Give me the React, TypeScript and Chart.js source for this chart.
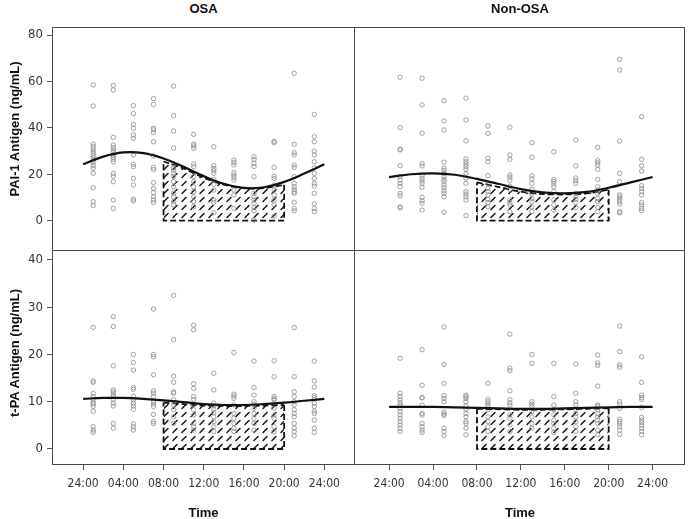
import React, { useEffect, useRef } from 'react';
import { Chart, registerables } from 'chart.js';

Chart.register(...registerables);

// ---- shared axis data ----
const sampleHours = [1, 3, 5, 7, 9, 11, 13, 15, 17, 19, 21, 23];
const xTickValues = [0, 4, 8, 12, 16, 20, 24];
const xTickLabels = ['24:00', '04:00', '08:00', '12:00', '16:00', '20:00', '24:00'];
const paiTicks = [0, 20, 40, 60, 80];
const tpaTicks = [0, 10, 20, 30, 40];
const curveHours = [0, 2, 4, 6, 8, 10, 12, 14, 16, 18, 20, 22, 24];
const hatchHours = [8, 10, 12, 14, 16, 18, 20];

// ---- PAI-1, OSA (one list per sampling hour) ----
const osaPai = [
  [58.5, 49.4, 33, 32, 31, 30, 29, 28, 27, 26, 25, 23.7, 22.5, 20.4, 14.2, 8.2, 6.5],
  [58.3, 56.3, 35.9, 32.6, 31.5, 30.4, 29.4, 28.3, 27.3, 26.4, 25.4, 20.4, 19.2, 16.8, 8.9, 5.3],
  [49.6, 46.2, 41.5, 39.8, 36.9, 35.5, 28.3, 24.3, 23.3, 18.2, 15.4, 9.3, 8.5],
  [52.6, 50.1, 39.8, 39.1, 37.9, 34.0, 27.9, 23.0, 22.1, 16.4, 13.9, 12.1, 10.3, 8.9, 7.8],
  [58.0, 45.2, 38.6, 31.3, 24.4, 22.8, 21.8, 20.4, 19.0, 16.8, 14.6, 11.8, 10.3, 8.2, 6.8],
  [37.2, 33.0, 32.2, 31.2, 24.4, 23.3, 19.0, 16.8, 14.6, 12.5, 10.3, 8.2, 6.0],
  [31.9, 23.7, 22.5, 21.5, 20.4, 17.8, 15.7, 13.2, 8.9, 7.9, 3.4],
  [26.1, 25.1, 24.0, 20.7, 19.7, 18.7, 17.5, 13.2, 11.1, 5.3],
  [27.6, 26.4, 24.7, 23.3, 19.0, 11.8, 10.3, 8.9, 7.5, 5.6, 4.3, 0.3],
  [34.2, 33.6, 23.0, 19.2, 18.2, 15.4, 13.2, 11.1, 8.9, 6.8, 2.0],
  [63.5, 32.9, 29.3, 28.3, 24.0, 23.0, 19.0, 16.1, 14.6, 13.5, 12.5, 11.8, 7.9, 5.3, 4.3],
  [45.8, 36.2, 34.0, 30.0, 28.3, 25.4, 22.8, 20.4, 18.2, 16.1, 14.9, 11.8, 7.2, 5.3, 3.9],
];

// ---- PAI-1, Non-OSA ----
const nonPai = [
  [61.8, 40.1, 30.9, 30.5, 23.7, 19.0, 17.5, 16.1, 14.7, 11.8, 10.8, 6.0, 5.5],
  [61.4, 49.9, 37.7, 24.7, 23.6, 19.4, 18.3, 17.1, 16.1, 14.4, 10.1, 8.6, 7.5, 4.6],
  [51.7, 43.0, 39.1, 25.2, 22.6, 21.6, 20.4, 19.0, 17.8, 16.8, 15.4, 14.2, 12.9, 11.8, 10.3, 3.6],
  [52.8, 43.4, 34.4, 26.6, 25.4, 24.4, 23.3, 22.2, 20.4, 18.3, 16.1, 12.5, 11.5, 10.3, 8.9, 2.2],
  [40.8, 37.6, 26.9, 25.4, 19.4, 16.1, 13.9, 12.5, 11.1, 9.2, 7.8, 6.0],
  [40.2, 28.3, 26.4, 19.7, 18.7, 17.5, 14.9, 13.5, 8.9, 7.8, 6.8, 3.9],
  [33.6, 27.3, 19.4, 18.0, 16.1, 13.5, 11.8, 9.6, 8.2, 6.0, 3.9],
  [29.7, 17.8, 16.9, 15.8, 14.6, 12.5, 8.9, 6.8, 4.6],
  [34.8, 23.6, 18.4, 17.2, 16.1, 11.8, 10.3, 9.2, 7.8, 5.7],
  [31.6, 25.9, 25.0, 24.0, 22.1, 17.8, 14.6, 13.2, 11.8, 9.6, 8.2, 5.7, 3.9],
  [69.5, 64.9, 34.3, 20.4, 16.8, 11.1, 10.3, 9.3, 8.2, 7.2, 3.9, 3.4],
  [44.8, 26.4, 23.7, 21.4, 15.1, 13.9, 12.5, 11.1, 7.8, 6.8, 5.3, 4.3],
];

// ---- t-PA, OSA ----
const osaTpa = [
  [25.7, 14.4, 14.1, 11.8, 11.1, 10.4, 9.8, 9.5, 9.0, 8.0, 4.7, 4.0, 3.5],
  [28.0, 25.9, 17.6, 12.5, 12.1, 11.6, 11.1, 10.5, 9.7, 9.1, 5.4, 4.4],
  [20.0, 18.3, 16.7, 13.0, 12.6, 11.1, 10.4, 9.7, 9.1, 8.4, 5.3, 4.7, 4.0],
  [29.6, 20.0, 19.5, 15.7, 12.3, 11.8, 11.1, 10.0, 9.5, 9.0, 7.3, 5.8, 5.4],
  [32.5, 23.1, 15.4, 14.1, 12.1, 11.8, 10.4, 9.3, 8.3, 6.8, 5.4],
  [26.2, 25.2, 13.8, 12.8, 11.1, 10.5, 9.3, 8.3, 7.2, 5.4, 4.7, 4.0],
  [16.0, 12.5, 9.7, 9.1, 8.4, 7.7, 6.8, 5.8, 4.7, 3.7],
  [20.4, 11.6, 11.2, 10.7, 9.3, 7.5, 6.5, 5.4, 4.4, 3.7],
  [18.6, 13.0, 11.4, 10.0, 9.5, 8.6, 7.5, 6.5, 5.4, 4.0],
  [18.7, 15.3, 11.1, 10.7, 10.4, 8.6, 7.2, 6.5, 4.7, 3.7],
  [25.7, 15.3, 12.1, 11.1, 10.0, 9.3, 8.3, 7.5, 6.8, 5.4, 4.4, 3.7, 2.8],
  [18.6, 14.4, 13.1, 11.3, 10.9, 9.7, 9.0, 8.0, 7.5, 6.1, 4.4, 3.5],
];

// ---- t-PA, Non-OSA ----
const nonTpa = [
  [19.2, 11.8, 11.1, 10.4, 9.8, 9.3, 8.6, 7.9, 7.2, 6.5, 5.8, 5.1, 4.4, 3.7],
  [21.0, 13.5, 10.9, 10.8, 9.3, 7.5, 7.2, 5.4, 4.7, 4.0, 3.5],
  [25.8, 17.9, 13.9, 11.3, 10.7, 10.0, 7.8, 7.4, 7.1, 4.4, 3.7, 2.8],
  [11.4, 11.1, 10.7, 10.0, 9.1, 8.4, 7.5, 6.8, 5.8, 5.4, 4.4, 3.0],
  [13.9, 10.5, 10.0, 9.5, 9.0, 8.3, 6.8, 5.8, 4.7, 3.7],
  [24.3, 17.1, 16.6, 12.3, 10.4, 9.8, 9.3, 7.2, 6.5, 5.1, 3.7],
  [20.0, 18.1, 10.0, 9.5, 9.0, 7.9, 6.8, 5.4, 4.4],
  [18.1, 11.1, 9.3, 8.3, 7.2, 6.1, 5.4, 4.4, 3.5],
  [18.0, 11.8, 10.0, 9.3, 8.4, 7.5, 6.8, 5.8, 4.7, 3.7],
  [19.9, 18.2, 17.7, 13.3, 9.3, 9.0, 8.3, 7.5, 6.8, 6.1, 5.4, 4.0, 3.0],
  [26.0, 20.6, 17.8, 17.3, 10.0, 9.5, 8.6, 6.3, 5.8, 5.3, 4.7, 4.0, 3.1],
  [19.5, 14.1, 11.4, 10.9, 10.5, 8.8, 6.7, 6.1, 5.6, 5.0, 4.4, 3.7, 3.0],
];

// ---- fitted rhythm curves (read at 2-hour steps) ----
const osaPaiCurve = [24.3, 27.6, 29.4, 29.1, 26.8, 23.2, 19.2, 15.9, 14.1, 14.4, 16.7, 20.3, 24.3];
const nonPaiCurve = [18.8, 20.0, 20.4, 19.8, 18.0, 15.8, 13.6, 12.2, 11.8, 12.4, 14.2, 16.5, 18.8];
const osaTpaCurve = [10.6, 10.8, 10.8, 10.6, 10.3, 9.9, 9.5, 9.3, 9.3, 9.5, 9.8, 10.2, 10.6];
const nonTpaCurve = [8.9, 8.9, 8.9, 8.8, 8.7, 8.6, 8.5, 8.5, 8.6, 8.7, 8.8, 8.9, 8.9];

// ---- hatched daytime area tops (08:00–20:00) ----
const osaPaiHatch = [25.5, 22.5, 18.5, 15.5, 14.0, 14.0, 15.5];
const nonPaiHatch = [16.5, 14.5, 12.5, 11.5, 11.3, 11.8, 13.3];
const osaTpaHatch = [9.8, 9.5, 9.2, 9.1, 9.1, 9.2, 9.3];
const nonTpaHatch = [8.5, 8.4, 8.3, 8.3, 8.4, 8.5, 8.6];

const TICK_FONT = '"Liberation Sans Narrow", "DejaVu Sans Condensed", "Liberation Sans", Arial, sans-serif';
const TITLE_FONT = '"Liberation Sans", Arial, sans-serif';

const borderPlugin = {
  id: 'panelBorder',
  afterDraw(chart: any) {
    const { ctx, chartArea: a } = chart;
    ctx.save();
    ctx.strokeStyle = '#4a4a4a';
    ctx.lineWidth = 1;
    ctx.strokeRect(a.left + 0.5, a.top + 0.5, a.right - a.left - 1, a.bottom - a.top - 1);
    ctx.restore();
  },
};

type PanelProps = {
  left: number; top: number; width: number; height: number;
  xr: [number, number]; yr: [number, number]; yTicks: number[];
  showX: boolean; showY: boolean;
  points: number[][]; curve: number[]; hatch: number[];
};

function Panel(p: PanelProps) {
  const ref = useRef<HTMLCanvasElement>(null);
  useEffect(() => {
    const canvas = ref.current!;
    const pc = document.createElement('canvas');
    pc.width = 9; pc.height = 8;
    const g = pc.getContext('2d')!;
    g.strokeStyle = '#111';
    g.lineWidth = 1.5;
    g.lineCap = 'round';
    g.beginPath(); g.moveTo(2, 6.5); g.lineTo(6, 2.5); g.stroke();
    const pattern = canvas.getContext('2d')!.createPattern(pc, 'repeat');

    const pts: { x: number; y: number }[] = [];
    p.points.forEach((col, i) => col.forEach((v) => pts.push({ x: sampleHours[i], y: v })));

    const zeroPad = (s: any) => { s.paddingLeft = 0; s.paddingRight = 0; s.paddingTop = 0; s.paddingBottom = 0; };

    const chart = new Chart(canvas, {
      type: 'scatter',
      data: {
        datasets: [
          {
            data: curveHours.map((h, i) => ({ x: h, y: p.curve[i] })),
            showLine: true, borderColor: '#111', borderWidth: 2.2, pointRadius: 0, tension: 0.4, order: 0,
          } as any,
          {
            data: pts, pointRadius: 2.2, borderColor: '#8c8c8c', borderWidth: 0.8,
            backgroundColor: 'rgba(0,0,0,0)', order: 1,
          },
          {
            data: hatchHours.map((h, i) => ({ x: h, y: p.hatch[i] })),
            showLine: true, fill: 'origin', backgroundColor: pattern, borderColor: '#111',
            borderWidth: 1.8, borderDash: [6, 3], pointRadius: 0, tension: 0.3, order: 2,
          },
          {
            data: [
              { x: hatchHours[hatchHours.length - 1], y: p.hatch[p.hatch.length - 1] },
              { x: hatchHours[hatchHours.length - 1], y: 0 },
              { x: hatchHours[0], y: 0 },
              { x: hatchHours[0], y: p.hatch[0] },
            ],
            showLine: true, borderColor: '#111', borderWidth: 1.8, borderDash: [6, 3],
            borderJoinStyle: 'round', pointRadius: 0, tension: 0, order: 2,
          },
        ],
      },
      options: {
        animation: false,
        responsive: false,
        devicePixelRatio: 1,
        layout: { padding: 0, autoPadding: false },
        plugins: { legend: { display: false }, tooltip: { enabled: false }, title: { display: false } },
        scales: {
          x: {
            type: 'linear', min: p.xr[0], max: p.xr[1], display: p.showX,
            afterBuildTicks: (s: any) => { s.ticks = xTickValues.map((v) => ({ value: v })); },
            afterFit: (s: any) => { s.height = p.showX ? 30 : 0; zeroPad(s); },
            ticks: {
              callback: (_v: any, i: number) => xTickLabels[i],
              color: '#333', font: { family: TICK_FONT, size: 12 }, padding: 7,
              maxRotation: 0, autoSkip: false,
            },
            grid: { drawOnChartArea: false, drawTicks: true, tickLength: 5, color: '#555' },
            border: { display: false },
          },
          y: {
            type: 'linear', min: p.yr[0], max: p.yr[1], display: p.showY,
            afterBuildTicks: (s: any) => { s.ticks = p.yTicks.map((v) => ({ value: v })); },
            afterFit: (s: any) => { s.width = p.showY ? 52 : 0; zeroPad(s); },
            ticks: { color: '#333', font: { family: TICK_FONT, size: 13 }, padding: 4 },
            grid: { drawOnChartArea: false, drawTicks: true, tickLength: 5, color: '#555' },
            border: { display: false },
          },
        },
      },
      plugins: [borderPlugin],
    });
    return () => chart.destroy();
  }, []);
  return (
    <canvas
      ref={ref}
      width={p.width}
      height={p.height}
      style={{ position: 'absolute', left: p.left, top: p.top, width: p.width, height: p.height }}
    />
  );
}

function Label(props: { x: number; y: number; text: string; rotate?: boolean }) {
  return (
    <div
      style={{
        position: 'absolute', left: props.x, top: props.y,
        transform: `translate(-50%, -50%)${props.rotate ? ' rotate(-90deg)' : ''}`,
        whiteSpace: 'nowrap', fontFamily: TITLE_FONT, fontWeight: 'bold', fontSize: 13,
        color: '#111', lineHeight: '16px',
      }}
    >
      {props.text}
    </div>
  );
}

export default function App() {
  const topY: [number, number] = [-13.06, 83.45];
  const botY: [number, number] = [-3.39, 42.1];
  const leftX: [number, number] = [-3.1, 27.05];
  const rightX: [number, number] = [-3.2, 26.95];
  return (
    <div style={{ position: 'fixed', left: 0, top: 0, width: 688, height: 519, background: '#fff', overflow: 'hidden' }}>
      <Panel left={0} top={27} width={355} height={224} xr={leftX} yr={topY} yTicks={paiTicks}
        showX={false} showY={true} points={osaPai} curve={osaPaiCurve} hatch={osaPaiHatch} />
      <Panel left={354} top={27} width={331} height={224} xr={rightX} yr={topY} yTicks={paiTicks}
        showX={false} showY={false} points={nonPai} curve={nonPaiCurve} hatch={nonPaiHatch} />
      <Panel left={0} top={250} width={355} height={245} xr={leftX} yr={botY} yTicks={tpaTicks}
        showX={true} showY={true} points={osaTpa} curve={osaTpaCurve} hatch={osaTpaHatch} />
      <Panel left={354} top={250} width={331} height={245} xr={rightX} yr={botY} yTicks={tpaTicks}
        showX={true} showY={false} points={nonTpa} curve={nonTpaCurve} hatch={nonTpaHatch} />
      <Label x={203.5} y={9} text="OSA" />
      <Label x={520} y={9} text="Non-OSA" />
      <Label x={203.5} y={512.5} text="Time" />
      <Label x={520} y={512.5} text="Time" />
      <Label x={15} y={129} text="PAI-1 Antigen (ng/mL)" rotate />
      <Label x={15} y={353} text="t-PA Antigen (ng/mL)" rotate />
    </div>
  );
}
